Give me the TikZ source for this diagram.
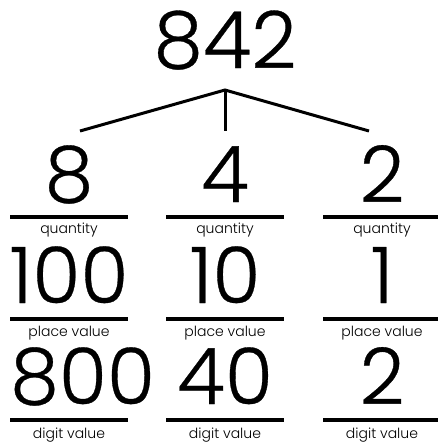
\documentclass[tikz,border=0pt]{standalone}
\usepackage{fontspec}
\setmainfont{Poppins}
\newfontfamily\thinfont[FakeBold=0.4]{Poppins Light}
\newfontfamily\labfont{Poppins Light}
\begin{document}
\begin{tikzpicture}[x=1pt,y=-1pt,
  big/.style={inner sep=0pt,anchor=base,font=\thinfont\fontsize{78}{78}\selectfont},
  top/.style={inner sep=0pt,anchor=base,font=\thinfont\fontsize{79}{79}\selectfont},
  lab/.style={inner sep=0pt,anchor=base,font=\labfont\fontsize{14}{14}\selectfont},
  bar/.style={line width=4pt},
  branch/.style={line width=3pt}]
\useasboundingbox (0,0) rectangle (438,442);
% top number
\node[top] (n842) at (225,68) {842};
\coordinate (apex) at (225,90);
\coordinate (bl) at (80,131);
\coordinate (bm) at (225,131);
\coordinate (br) at (369,131);
\draw[branch,line join=miter] (bl) -- (apex) -- (br);
\draw[branch] (apex) -- (bm);
% columns
\foreach \c/\x/\a/\b in {1/69/8/100, 2/225/4/10, 3/382/2/1}{
  \node[big] (q\c) at (\x,202) {\a};
  \node[big] (p\c) at (\x,303) {\b};
  \draw[bar] (\x-59,217) coordinate (qa\c) -- (\x+59,217) coordinate (qb\c);
  \draw[bar] (\x-59,319) coordinate (pa\c) -- (\x+59,319) coordinate (pb\c);
  \draw[bar] (\x-59,420) coordinate (da\c) -- (\x+59,420) coordinate (db\c);
  \node[lab] (ql\c) at (\x,233) {quantity};
  \node[lab] (pl\c) at (\x,336) {place value};
  \node[lab] (dl\c) at (\x,438) {digit value};
}
\node[big,anchor=base west] (d1) at (10,404) {800};
\node[big] (d2) at (225,404) {40};
\node[big] (d3) at (382,404) {2};
\end{tikzpicture}
\end{document}
